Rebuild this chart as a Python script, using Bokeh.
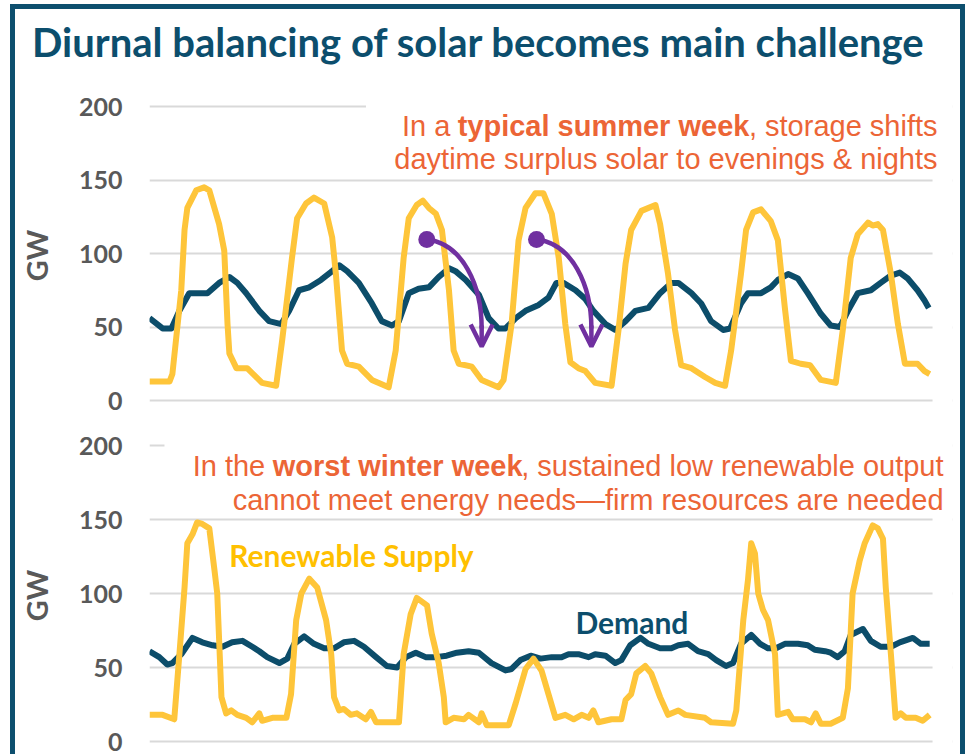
from bokeh.plotting import figure
from bokeh.layouts import column
from bokeh.models import Range1d, FixedTicker, Label, BoxAnnotation, Arrow, OpenHead, Div
from bokeh.embed import file_html
from bokeh.resources import INLINE

# ---------------- data (hours of the week, GW) ----------------
y_ticks = [0, 50, 100, 150, 200]

summer_solar_h = [0, 4.3, 4.9, 6.8, 7.5, 8.1, 10.0, 11.7, 12.8, 14.9, 16.0, 16.7, 17.1, 18.6, 20.9, 24.1, 27.1,
                  28.4, 30.5, 31.6, 33.5, 35.2, 37.4, 39.1, 39.9, 41.2, 42.3, 44.8, 47.6, 51.2,
                  52.7, 54.4, 55.5, 57.2, 58.5, 59.8, 61.3, 62.6, 64.1, 65.1, 66.2, 69.0, 71.1, 74.7,
                  75.8, 77.5, 79.0, 80.5, 82.6, 84.3, 86.1, 87.6, 89.0, 90.1, 91.8, 93.3, 95.4, 98.9,
                  100.4, 101.9, 103.1, 105.3, 108.3, 109.3, 111.0, 112.5, 113.8, 116.0, 118.9, 121.1, 123.2,
                  124.5, 126.6, 127.7, 129.2, 130.9, 133.0, 134.5, 136.0, 137.3, 139.4, 141.4, 143.7, 146.9,
                  148.4, 150.1, 151.6, 153.8, 154.8, 155.9, 157.0, 158.7, 160.2, 161.7, 164.4, 165.9, 167.0]
summer_solar_gw = [13, 13, 18, 75, 116, 131, 143, 145, 143, 120, 102, 52, 32, 22, 22, 12, 10,
                   41, 97, 124, 134, 138, 134, 111, 86, 34, 25, 23, 14, 9,
                   34, 97, 124, 133, 136, 131, 127, 116, 75, 34, 25, 23, 14, 9,
                   14, 52, 109, 131, 141, 141, 127, 97, 52, 26, 22, 20, 12, 10,
                   48, 93, 116, 129, 133, 120, 86, 48, 24, 22, 16, 12, 10,
                   34, 86, 116, 128, 130, 122, 109, 63, 27, 25, 24, 14, 12,
                   48, 97, 113, 121, 119, 120, 116, 86, 52, 25, 25, 20, 18]

summer_demand_h = [0, 2.8, 4.7, 6.4, 8.5, 10.7, 12.4, 14.9, 17.1, 18.8, 20.7, 23.5, 25.6, 28.2,
                   29.9, 32.0, 34.2, 36.7, 39.1, 40.6, 42.3, 44.8, 47.6, 49.7, 51.9,
                   53.4, 55.5, 57.6, 59.8, 61.9, 64.1, 65.5, 67.7, 70.5, 72.6, 74.7,
                   76.2, 78.4, 80.5, 83.3, 85.4, 87.1, 88.6, 91.2, 93.3, 95.0, 97.6, 99.7,
                   101.9, 104.0, 106.8, 109.3, 111.7, 113.2, 116.0, 118.1, 120.2, 122.8, 124.3,
                   126.6, 128.1, 130.9, 133.0, 134.5, 136.7, 138.8, 140.9, 143.7, 145.8, 147.8,
                   149.5, 151.6, 154.4, 156.5, 158.7, 160.6, 162.3, 164.4, 165.9, 166.8]
summer_demand_gw = [56, 49, 49, 61, 73, 73, 73, 80, 84, 80, 73, 61, 54, 52,
                    61, 75, 77, 82, 88, 92, 88, 80, 66, 54, 51,
                    54, 73, 76, 77, 84, 90, 88, 82, 72, 56, 49,
                    49, 56, 61, 65, 70, 80, 80, 75, 69, 61, 52, 48,
                    54, 61, 63, 73, 80, 80, 73, 66, 54, 48, 49,
                    66, 73, 73, 77, 82, 86, 83, 73, 59, 51, 50,
                    61, 73, 75, 80, 85, 87, 83, 75, 68, 63]

winter_solar_h = [0, 2.8, 5.3, 6.4, 7.5, 8.1, 9.2, 10.2, 11.3, 12.8, 13.9, 14.5, 15.4, 16.4, 17.5, 18.8,
                  20.7, 22.0, 23.5, 24.1, 26.3, 29.3, 30.3, 31.4, 32.5, 34.2, 35.9, 37.8, 38.9, 39.5,
                  40.6, 41.6, 43.1, 44.4, 46.3, 47.4, 48.5, 53.4, 54.4, 55.9, 57.2, 59.4, 60.4, 61.9,
                  63.0, 63.4, 65.1, 67.3, 68.3, 70.5, 71.1, 72.2, 76.9, 78.4, 80.5, 82.2, 83.9, 85.4,
                  86.9, 89.0, 90.8, 92.5, 94.0, 95.0, 96.1, 98.9, 101.0, 101.9, 103.1, 104.2, 106.1,
                  107.4, 109.3, 111.0, 113.2, 114.7, 118.9, 120.2, 124.9, 125.6, 127.1, 128.1, 128.8,
                  129.6, 130.3, 131.3, 132.4, 133.9, 134.5, 136.7, 137.7, 140.3, 141.6, 142.6, 143.7,
                  145.8, 148.4, 149.5, 150.5, 152.0, 153.1, 154.8, 155.9, 157.0, 157.6, 158.7, 159.7,
                  160.8, 161.9, 164.0, 165.5, 167.0]
winter_solar_gw = [18, 18, 15, 59, 104, 134, 140, 148, 147, 144, 116, 100, 30, 19, 21, 18,
                   16, 13, 19, 14, 16, 16, 32, 82, 100, 110, 104, 82, 59, 30,
                   21, 22, 18, 19, 15, 20, 13, 13, 59, 86, 97, 92, 73, 53,
                   30, 13, 16, 15, 18, 13, 19, 11, 11, 26, 49, 56, 48, 32,
                   16, 18, 15, 18, 16, 21, 13, 15, 15, 28, 32, 46, 51,
                   46, 30, 18, 21, 18, 16, 13, 12, 21, 82, 109, 134,
                   127, 100, 89, 82, 59, 18, 20, 15, 15, 13, 19, 12,
                   12, 16, 36, 100, 122, 134, 146, 144, 137, 104, 59, 16,
                   19, 16, 16, 14, 18]

winter_demand_h = [0, 2.1, 3.8, 4.9, 6.8, 9.2, 11.3, 13.5, 15.6, 17.7, 19.9, 22.0, 23.5, 25.2, 27.8,
                   29.5, 31.0, 33.1, 35.2, 37.4, 39.5, 41.6, 43.8, 45.9, 48.5, 50.8, 53.0, 54.9,
                   57.0, 59.1, 61.3, 63.6, 65.8, 68.3, 70.5, 73.2, 76.2, 77.5, 79.4, 81.6, 83.7,
                   86.1, 88.2, 89.7, 91.8, 94.0, 95.4, 97.6, 99.7, 101.0, 102.9, 105.1, 106.8,
                   109.3, 111.7, 113.2, 115.3, 117.4, 119.6, 121.3, 123.4, 124.9, 126.6, 128.8,
                   130.7, 132.4, 134.1, 136.0, 138.8, 140.9, 142.4, 144.6, 145.8, 147.3, 148.8,
                   150.1, 152.7, 154.4, 156.5, 158.7, 160.6, 163.4, 165.1, 167.0]
winter_demand_gw = [61, 57, 52, 53, 59, 70, 67, 65, 64, 67, 68, 64, 61, 57, 53,
                    56, 66, 71, 66, 63, 63, 67, 68, 64, 57, 51, 50, 57,
                    60, 57, 57, 58, 60, 61, 60, 53, 48, 49, 55, 58, 56,
                    57, 57, 59, 59, 57, 59, 58, 53, 55, 65, 70, 66,
                    63, 63, 65, 66, 61, 59, 55, 51, 53, 66, 72,
                    66, 63, 63, 66, 66, 65, 62, 61, 60, 57, 61,
                    72, 76, 68, 64, 64, 67, 70, 66, 66]

# ---------------- styling ----------------
TEAL = "#0c4e6d"
NAVY = "#0c4d6a"
YEL = "#fec53a"
GOLD = "#ffc000"
ORANGE = "#ec6536"
PURPLE = "#7030a0"
GRAY = "#595959"
GRID = "#d9d9d9"
TXT = "Liberation Sans"
CAL = "Lato"

W = 945
PX_PER_H = 784 / 167.4
X_END = (955 - 150) / PX_PER_H


def hx(page_x):
    return (page_x - 150) / PX_PER_H


def make_panel(height, y0, y1, mb_top, mb_bottom):
    p = figure(width=W, height=height, x_range=Range1d(0, X_END), y_range=Range1d(y0, y1),
               x_axis_type=None, toolbar_location=None, output_backend="svg",
               min_border_left=132, min_border_right=8,
               min_border_top=mb_top, min_border_bottom=mb_bottom)
    p.outline_line_color = None
    p.background_fill_color = "white"
    p.border_fill_color = "white"
    ax = p.yaxis[0]
    ax.ticker = FixedTicker(ticks=y_ticks)
    ax.axis_line_color = None
    ax.major_tick_line_color = None
    ax.minor_tick_line_color = None
    ax.major_tick_out = 0
    ax.major_tick_in = 0
    ax.major_label_standoff = 27
    ax.major_label_text_font = CAL
    ax.major_label_text_font_style = "bold"
    ax.major_label_text_font_size = "25px"
    ax.major_label_text_color = GRAY
    ax.axis_label = "GW"
    ax.axis_label_text_font = CAL
    ax.axis_label_text_font_style = "bold"
    ax.axis_label_text_font_size = "29px"
    ax.axis_label_text_color = GRAY
    ax.axis_label_standoff = 22
    p.ygrid.grid_line_color = GRID
    p.ygrid.grid_line_width = 2
    # gridlines stop at the end of the week
    p.add_layout(BoxAnnotation(left=hx(935), fill_color="white", fill_alpha=1, line_color=None))
    return p


# ---------------- title strip ----------------
H0 = 60
title = Div(text="Diurnal balancing of solar becomes main challenge", width=W, height=H0,
            styles={"font-family": "Lato", "font-weight": "bold", "font-size": "40px",
                    "color": TEAL, "line-height": "1.2", "padding-left": "17px",
                    "padding-top": "9px", "margin": "0", "white-space": "nowrap",
                    "box-sizing": "border-box", "background-color": "white"})

# ---------------- top panel: summer ----------------
T_PX = 1.47  # px per GW


def gt(page_y):
    return (400 - page_y) / T_PX


p1 = make_panel(416 - H0, gt(410), gt(100), 91 - H0, 15)
p1.line(summer_demand_h, summer_demand_gw, line_color=NAVY, line_width=6, line_join="round")
p1.line(summer_solar_h, summer_solar_gw, line_color=YEL, line_width=6, line_join="round")

p1.add_layout(BoxAnnotation(left=hx(367), bottom=gt(170), fill_color="white", fill_alpha=1, line_color=None))

line1_top = [("In a", "normal", 451.6), ("typical summer week", "bold", 751.4), (", storage shifts", "normal", 940)]
for txt, style, right in line1_top:
    p1.add_layout(Label(x=hx(right), y=gt(125), text=txt, text_font=TXT, text_font_style=style,
                        text_font_size="29px", text_color=ORANGE, text_align="right",
                        text_baseline="alphabetic"))
p1.add_layout(Label(x=hx(940), y=gt(158), text="daytime surplus solar to evenings & nights",
                    text_font=TXT, text_font_size="29px", text_color=ORANGE, text_align="right",
                    text_baseline="alphabetic"))
p1.segment(x0=[hx(459.7)], y0=[gt(130)], x1=[hx(751.4)], y1=[gt(130)], line_color=ORANGE, line_width=2.5)

# storage-shift arrows
for sx, ex in [(428, 483), (538, 593)]:
    p1.bezier(x0=[hx(sx)], y0=[gt(239)], x1=[hx(ex)], y1=[gt(328)],
              cx0=[hx(sx + 36)], cy0=[gt(243)], cx1=[hx(ex)], cy1=[gt(285)],
              line_color=PURPLE, line_width=4.5)
    p1.add_layout(Arrow(x_start=hx(ex), y_start=gt(325), x_end=hx(ex), y_end=gt(346),
                        line_color=PURPLE, line_width=4.5,
                        end=OpenHead(size=22, line_color=PURPLE, line_width=4.5)))
    p1.scatter([hx(sx)], [gt(239)], size=17, marker="circle", fill_color=PURPLE, line_color=None)

# ---------------- bottom panel: winter ----------------
B_PX = 1.48


def gb(page_y):
    return (741 - page_y) / B_PX


p2 = make_panel(329, gb(750), gb(440), 15, 4)
p2.line(winter_demand_h, winter_demand_gw, line_color=NAVY, line_width=6, line_join="round")
p2.line(winter_solar_h, winter_solar_gw, line_color=YEL, line_width=6, line_join="round")

p2.add_layout(BoxAnnotation(left=hx(165), bottom=gb(506), fill_color="white", fill_alpha=1, line_color=None))

line1_bot = [("In the", "normal", 266), ("worst winter week", "bold", 524), (", sustained low renewable output", "normal", 946)]
for txt, style, right in line1_bot:
    p2.add_layout(Label(x=hx(right), y=gb(465), text=txt, text_font=TXT, text_font_style=style,
                        text_font_size="29px", text_color=ORANGE, text_align="right",
                        text_baseline="alphabetic"))
p2.add_layout(Label(x=hx(946), y=gb(499), text="cannot meet energy needs\u2014firm resources are needed",
                    text_font=TXT, text_font_size="29px", text_color=ORANGE, text_align="right",
                    text_baseline="alphabetic"))
p2.segment(x0=[hx(274)], y0=[gb(469)], x1=[hx(524)], y1=[gb(469)], line_color=ORANGE, line_width=2.5)

p2.add_layout(Label(x=hx(230), y=gb(554), text="Renewable Supply", text_font=CAL, text_font_style="bold",
                    text_font_size="30px", text_color=GOLD, text_baseline="alphabetic"))
p2.add_layout(Label(x=hx(577), y=gb(621), text="Demand", text_font=CAL, text_font_style="bold",
                    text_font_size="30px", text_color=TEAL, text_baseline="alphabetic"))

layout = column(title, p1, p2, styles={
    "border-top": "5px solid #0d4f6e",
    "border-left": "5px solid #0d4f6e",
    "border-right": "5px solid #0d4f6e",
    "margin-left": "10px",
    "margin-top": "4px",
    "margin-bottom": "-40px",
})

open("out.html", "w").write(file_html(layout, INLINE))
